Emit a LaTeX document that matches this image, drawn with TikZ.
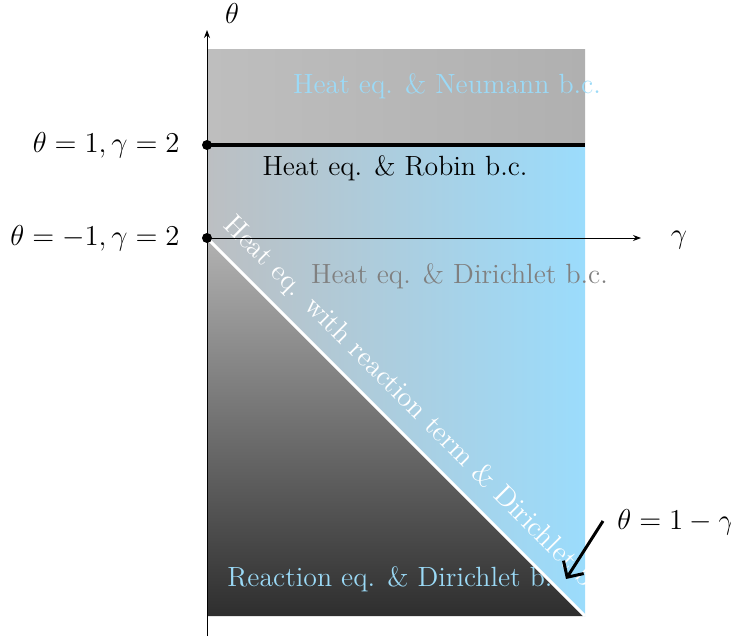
\documentclass[tikz,border=0pt]{standalone}
\usepackage{fontspec}
\usetikzlibrary{arrows.meta}
\definecolor{topL}{RGB}{190,190,190}
\definecolor{topR}{RGB}{176,176,176}
\definecolor{blueL}{RGB}{188,191,194}
\definecolor{blueR}{RGB}{155,220,252}
\definecolor{triTop}{RGB}{178,178,178}
\definecolor{triBot}{RGB}{46,46,46}
\definecolor{lblue}{RGB}{155,218,247}
\definecolor{midgray}{RGB}{128,128,128}
\tikzset{
  lbl/.style={inner sep=0pt, font=\fontsize{13.9}{16}\selectfont},
  dlbl/.style={inner sep=0pt, font=\fontsize{14.2}{17}\selectfont},
  mlbl/.style={inner sep=0pt, font=\fontsize{14.4}{17}\selectfont},
  axis/.style={line width=0.5pt, -{Stealth[length=4pt,width=3pt]}},
  dotm/.style={circle, fill=black, inner sep=0pt, minimum size=5pt},
}
\begin{document}
\begin{tikzpicture}[x=0.5pt,y=-0.5pt]
\useasboundingbox (0,0) rectangle (731,636);
% corner coordinates
\coordinate (O) at (207,238);
\coordinate (TL) at (207,50);
\coordinate (TR) at (585,50);
\coordinate (RL) at (207,145);
\coordinate (RR) at (585,145);
\coordinate (BR) at (585,616);
\coordinate (BL) at (207,616);
% regions
\shade[left color=topL, right color=topR] (TL) rectangle (RR);
\shade[top color=triTop, bottom color=triBot] (O) -- (BR) -- (BL) -- cycle;
\node[lbl, text=lblue, anchor=base west] (reac) at (227,586) {Reaction eq. \& Dirichlet b.c.};
\shade[left color=blueL, right color=blueR] (RL) -- (RR) -- (BR) -- (O) -- cycle;
% texts
\node[lbl, text=lblue, anchor=base] (neu) at (447,94) {Heat eq. \& Neumann b.c.};
\node[lbl, text=black, anchor=base] (rob) at (395,176) {Heat eq. \& Robin b.c.};
\node[lbl, text=midgray, anchor=base] (dir) at (459.5,283) {Heat eq. \& Dirichlet b.c.};
% lines
\draw[line width=2pt] (RL) -- (RR);
\draw[white, line width=1.5pt] (O) -- (BR);
\node[dlbl, text=white, anchor=base west, rotate=-45] (diag) at (222,226) {Heat eq. with reaction term \& Dirichlet b.c.};
% axes
\coordinate (ybot) at (207,636);
\coordinate (ytop) at (207,30);
\coordinate (xend) at (641,238);
\draw[axis] (ybot) -- (ytop);
\draw[axis] (O) -- (xend);
\node[mlbl] (thetalbl) at (232,14) {$\theta$};
\node[mlbl] (gammalbl) at (679,240) {$\gamma$};
% dots and labels
\node[dotm] (d1) at (RL) {};
\node[dotm] (d2) at (O) {};
\node[mlbl, anchor=east] (l1) at (180,145) {$\theta=1,\gamma=2$};
\node[mlbl, anchor=east] (l2) at (180,238) {$\theta=-1,\gamma=2$};
% diagonal label and arrow
\node[mlbl, anchor=west] (l3) at (617,522) {$\theta=1-\gamma$};
\coordinate (as) at (603,521);
\coordinate (ae) at (566,579);
\draw[line width=1.5pt, -{Straight Barb[length=6pt,width=12pt]}] (as) -- (ae);
\end{tikzpicture}
\end{document}
